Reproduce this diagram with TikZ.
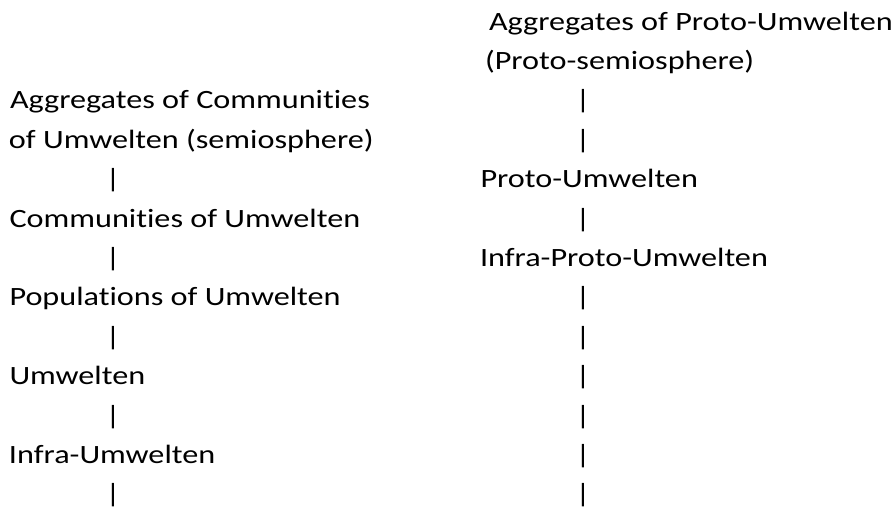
\documentclass[tikz,border=0pt]{standalone}
\usepackage{fontspec}
\setmainfont{Carlito}[FakeStretch=1.22,Ligatures=NoCommon]
\begin{document}
\begin{tikzpicture}[x=1pt,y=-1pt,
  lbl/.style={anchor=base west,inner sep=0pt,outer sep=0pt,font=\fontsize{26.4}{30}\selectfont},
  bar/.style={anchor=base,inner sep=0pt,outer sep=0pt,font=\fontsize{26.4}{30}\selectfont}]
\useasboundingbox (0,0) rectangle (896,506);
\def\s{39.4}
% right column (baselines 30 + (k-1)*s)
\node[lbl] (r1) at (489,30) {Aggregates of Proto-Umwelten};
\node[lbl] (r2) at (485,30+\s) {(Proto-semiosphere)};
\node[bar] (r3) at (583,30+2*\s) {|};
\node[bar] (r4) at (583,30+3*\s) {|};
\node[lbl] (r5) at (480.5,30+4*\s) {Proto-Umwelten};
\node[bar] (r6) at (583,30+5*\s) {|};
\node[lbl] (r7) at (480,30+6*\s) {Infra-Proto-Umwelten};
\node[bar] (r8) at (583,30+7*\s) {|};
\node[bar] (r9) at (583,30+8*\s) {|};
\node[bar] (r10) at (583,30+9*\s) {|};
\node[bar] (r11) at (583,30+10*\s) {|};
\node[bar] (r12) at (583,30+11*\s) {|};
\node[bar] (r13) at (583,30+12*\s) {|};
% left column
\node[lbl] (l1) at (10,30+2*\s) {Aggregates of Communities};
\node[lbl] (l2) at (9,30+3*\s) {of Umwelten (semiosphere)};
\node[bar] (l3) at (113,30+4*\s) {|};
\node[lbl] (l4) at (9.5,30+5*\s) {Communities of Umwelten};
\node[bar] (l5) at (113,30+6*\s) {|};
\node[lbl] (l6) at (9.5,30+7*\s) {Populations of Umwelten};
\node[bar] (l7) at (113,30+8*\s) {|};
\node[lbl] (l8) at (9.5,30+9*\s) {Umwelten};
\node[bar] (l9) at (113,30+10*\s) {|};
\node[lbl] (l10) at (9,30+11*\s) {Infra-Umwelten};
\node[bar] (l11) at (113,30+12*\s) {|};
\end{tikzpicture}
\end{document}
